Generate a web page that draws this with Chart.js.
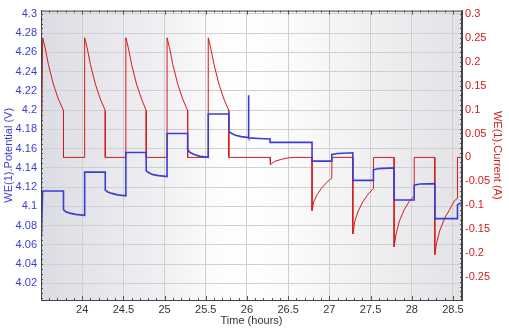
<!DOCTYPE html>
<html>
<head>
<meta charset="utf-8">
<script src="https://cdn.jsdelivr.net/npm/chart.js@4/dist/chart.umd.min.js"></script>
<style>
  html, body { margin: 0; padding: 0; background: #fff; }
  #wrap { width: 509px; height: 328px; }
</style>
</head>
<body>
<div id="wrap"><canvas id="c"></canvas></div>
<script>
// tick labels
const timeTicks = [24, 24.5, 25, 25.5, 26, 26.5, 27, 27.5, 28, 28.5]
const potentialTicks = [4.02, 4.04, 4.06, 4.08, 4.1, 4.12, 4.14, 4.16, 4.18, 4.2, 4.22, 4.24, 4.26, 4.28, 4.3]
const currentTicks = [-0.25, -0.2, -0.15, -0.1, -0.05, 0, 0.05, 0.1, 0.15, 0.2, 0.25, 0.3]

// WE(1).Current (A)
const currentTime = [
  23.505, 23.52, 23.55, 23.59, 23.65, 23.71, 23.773, 23.773,
  24.03, 24.03, 24.06, 24.10, 24.16, 24.22, 24.28, 24.28,
  24.53, 24.53, 24.56, 24.60, 24.66, 24.72, 24.777, 24.777,
  25.03, 25.03, 25.06, 25.10, 25.16, 25.22, 25.28, 25.28,
  25.53, 25.53, 25.56, 25.60, 25.66, 25.72, 25.78, 25.78,
  26.28, 26.285, 26.34, 26.42, 26.5, 26.58,
  26.79, 26.79, 26.81, 26.85, 26.91, 26.97, 27.03, 27.03,
  27.285, 27.285, 27.31, 27.35, 27.41, 27.47, 27.535, 27.535,
  27.786, 27.786, 27.81, 27.85, 27.91, 27.97, 28.03, 28.03,
  28.28, 28.28, 28.30, 28.34, 28.40, 28.46, 28.52, 28.555, 28.555, 28.62
]
const currentValue = [
  0, 0.25, 0.229, 0.194, 0.153, 0.122, 0.098, 0,
  0, 0.25, 0.229, 0.194, 0.153, 0.122, 0.098, 0,
  0, 0.25, 0.229, 0.194, 0.153, 0.122, 0.098, 0,
  0, 0.25, 0.229, 0.194, 0.153, 0.122, 0.098, 0,
  0, 0.25, 0.229, 0.194, 0.153, 0.122, 0.098, 0,
  0, -0.015, -0.008, -0.004, -0.001, 0,
  0, -0.111, -0.093, -0.078, -0.063, -0.052, -0.043, 0,
  0, -0.160, -0.133, -0.112, -0.092, -0.077, -0.065, 0,
  0, -0.187, -0.160, -0.133, -0.109, -0.092, -0.080, 0,
  0, -0.203, -0.180, -0.153, -0.127, -0.109, -0.090, -0.086, 0, 0
]

// WE(1).Potential (V)
const potentialTime = [
  23.505, 23.52, 23.773, 23.773, 23.80, 23.85, 23.92, 24.03,
  24.03, 24.28, 24.28, 24.31, 24.36, 24.43, 24.53,
  24.53, 24.777, 24.777, 24.81, 24.86, 24.93, 25.03,
  25.03, 25.28, 25.28, 25.31, 25.36, 25.43, 25.53,
  25.53, 25.78, 25.78, 25.81, 25.86, 25.93, 26.019, 26.02, 26.021, 26.15, 26.28,
  26.28, 26.79, 26.79, 27.03,
  27.03, 27.1, 27.285, 27.285, 27.535,
  27.535, 27.6, 27.786, 27.786, 28.03,
  28.03, 28.1, 28.28, 28.28, 28.555,
  28.555, 28.58, 28.62
]
const potentialValue = [
  4.069, 4.116, 4.116, 4.0965, 4.0945, 4.093, 4.0917, 4.0907,
  4.1356, 4.1356, 4.117, 4.115, 4.1135, 4.112, 4.111,
  4.156, 4.156, 4.137, 4.135, 4.133, 4.132, 4.131,
  4.1757, 4.1757, 4.159, 4.156, 4.154, 4.152, 4.151,
  4.196, 4.196, 4.178, 4.176, 4.174, 4.1725, 4.1715, 4.2155, 4.1712, 4.1705, 4.17,
  4.1665, 4.1665, 4.147, 4.147,
  4.154, 4.155, 4.1557, 4.127, 4.127,
  4.138, 4.1393, 4.140, 4.1067, 4.1067,
  4.122, 4.1232, 4.1237, 4.0873, 4.0873,
  4.1016, 4.103, 4.104
]

const BLUE = '#3c3cd4'
const RED = '#d01c1c'
const FONT = { family: 'Liberation Sans, Arial, sans-serif', size: 11 }

const plotFrame = {
  id: 'plotFrame',
  beforeDraw(chart) {
    const { ctx, chartArea: a } = chart
    const g = ctx.createLinearGradient(a.left, 0, a.right, 0)
    g.addColorStop(0, '#dcdce4')
    g.addColorStop(0.3, '#f1f1f4')
    g.addColorStop(0.45, '#ffffff')
    g.addColorStop(0.6, '#fbfbfc')
    g.addColorStop(0.85, '#ececef')
    g.addColorStop(1, '#e3e3e7')
    ctx.save()
    ctx.fillStyle = g
    ctx.fillRect(a.left, a.top, a.right - a.left, a.bottom - a.top)
    ctx.restore()
  },
  afterDraw(chart) {
    const { ctx, chartArea: a, scales } = chart
    ctx.save()
    ctx.strokeStyle = '#555'
    ctx.lineWidth = 1
    ctx.beginPath()
    // minor ticks on top and bottom
    for (let t = 23.5; t <= 28.61; t += 0.1) {
      const x = Math.round(scales.x.getPixelForValue(t)) + 0.5
      const major = Math.abs(t * 2 - Math.round(t * 2)) < 0.01
      const len = major ? 4 : 2
      ctx.moveTo(x, a.top); ctx.lineTo(x, a.top + len)
      ctx.moveTo(x, a.bottom); ctx.lineTo(x, a.bottom - len)
    }
    for (let v = 4.005; v < 4.3035; v += 0.005) {
      const y = Math.round(scales.y.getPixelForValue(v)) + 0.5
      ctx.moveTo(a.left, y); ctx.lineTo(a.left + 2, y)
    }
    for (let v = -0.29; v < 0.305; v += 0.01) {
      const y = Math.round(scales.y1.getPixelForValue(v)) + 0.5
      ctx.moveTo(a.right, y); ctx.lineTo(a.right - 2, y)
    }
    ctx.stroke()
    ctx.strokeStyle = '#444'
    ctx.strokeRect(a.left + 0.5, a.top + 0.5, a.right - a.left - 1, a.bottom - a.top)
    ctx.restore()
  }
}

const potentialData = potentialTime.map((t, i) => ({ x: t, y: potentialValue[i] }))
const currentData = currentTime.map((t, i) => ({ x: t, y: currentValue[i] }))

new Chart(document.getElementById('c'), {
  type: 'line',
  data: {
    datasets: [
      { label: 'WE(1).Potential (V)', data: potentialData, yAxisID: 'y', borderColor: BLUE, borderWidth: 1.6, pointRadius: 0, tension: 0, order: 0 },
      { label: 'WE(1).Current (A)', data: currentData, yAxisID: 'y1', borderColor: RED, borderWidth: 1, pointRadius: 0, tension: 0, order: 1 }
    ]
  },
  options: {
    responsive: true,
    maintainAspectRatio: false,
    animation: false,
    layout: { padding: { top: 5 } },
    plugins: { legend: { display: false }, tooltip: { enabled: false } },
    scales: {
      x: {
        type: 'linear', min: 23.5, max: 28.61,
        afterBuildTicks: s => { s.ticks = timeTicks.map(v => ({ value: v })) },
        afterFit: s => { s.height = 28 },
        grid: { color: '#d0d0d0', drawTicks: false },
        border: { color: '#444' },
        ticks: { color: '#333', font: FONT, padding: 3, maxRotation: 0, callback: v => String(v) },
        title: { display: true, text: 'Time (hours)', color: '#333', font: FONT, padding: { top: -2, bottom: 0 } }
      },
      y: {
        position: 'left', min: 4.0027, max: 4.3035,
        afterBuildTicks: s => { s.ticks = potentialTicks.map(v => ({ value: v })) },
        afterFit: s => { s.width = 41 },
        grid: { color: '#d0d0d0', drawTicks: false },
        border: { color: '#444' },
        ticks: { color: BLUE, font: FONT, padding: 4, callback: v => String(+v.toFixed(2)) },
        title: { display: true, text: 'WE(1).Potential (V)', color: BLUE, font: FONT, padding: { top: 2, bottom: 0 } }
      },
      y1: {
        position: 'right', min: -0.298, max: 0.3068,
        afterBuildTicks: s => { s.ticks = currentTicks.map(v => ({ value: v })) },
        afterFit: s => { s.width = 47 },
        grid: { drawOnChartArea: false, drawTicks: false },
        border: { color: '#444' },
        ticks: { color: RED, font: FONT, padding: 3, callback: v => String(+v.toFixed(2)) },
        title: { display: true, text: 'WE(1).Current (A)', color: RED, font: FONT, padding: { top: 5, bottom: 0 } }
      }
    }
  },
  plugins: [plotFrame]
})
</script>
</body>
</html>
